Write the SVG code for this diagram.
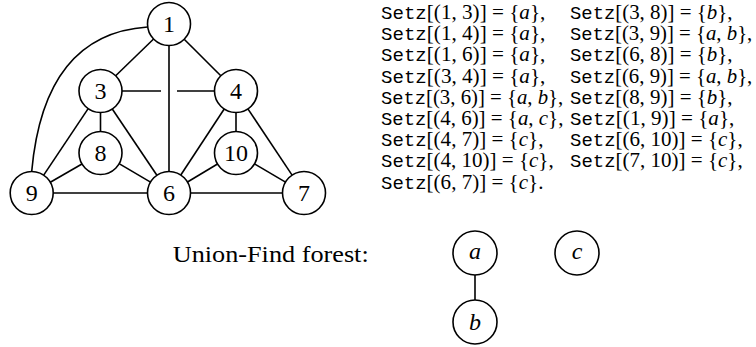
<svg xmlns="http://www.w3.org/2000/svg" width="756" height="347" viewBox="0 0 756 347">
<style>
.node circle{fill:#fff;stroke:#000;stroke-width:1.6}
.lbl{font-family:"Liberation Serif","DejaVu Serif",serif;font-size:24px;text-anchor:middle;fill:#000}
.it{font-style:italic}
.edges line,.edges path{stroke:#000;stroke-width:1.6;fill:none}
.st{font-family:"Liberation Serif","DejaVu Serif",serif;font-size:20.5px;fill:#000}
.tt{font-family:"Liberation Mono","DejaVu Sans Mono",monospace;font-size:18.5px}
</style>
<rect width="756" height="347" fill="#fff"/>
<g id="connectors" class="edges">
<path d="M147.5,27 Q44,34 31.7,171.5"/>
<line x1="153.6" y1="39" x2="115.4" y2="76"/>
<line x1="184.2" y1="39.2" x2="220.8" y2="75.8"/>
<line x1="169" y1="45.5" x2="169" y2="171.5"/>
<line x1="121.5" y1="91" x2="161" y2="91"/>
<line x1="177" y1="91" x2="214.5" y2="91"/>
<line x1="100.5" y1="112.5" x2="100.5" y2="131.5"/>
<line x1="88" y1="108.9" x2="43.7" y2="175.1"/>
<line x1="112.1" y1="108.8" x2="156.9" y2="175.2"/>
<line x1="82.4" y1="163.8" x2="50.3" y2="182.3"/>
<line x1="119.5" y1="163.9" x2="150.5" y2="182.1"/>
<line x1="53.2" y1="193" x2="147.5" y2="193"/>
<line x1="190.5" y1="193" x2="282.5" y2="193"/>
<line x1="236" y1="112.5" x2="236" y2="131.5"/>
<line x1="224.2" y1="109" x2="180.8" y2="175"/>
<line x1="247.9" y1="108.9" x2="292.1" y2="175.1"/>
<line x1="217.5" y1="164" x2="187.5" y2="182"/>
<line x1="254.5" y1="163.9" x2="285.5" y2="182.1"/>
<line x1="475" y1="275" x2="475" y2="300"/>
</g>
<g id="n1" class="node"><circle cx="169" cy="24" r="21.5"/><text class="lbl" x="169" y="32.3">1</text></g>
<g id="n3" class="node"><circle cx="100.5" cy="91" r="21.5"/><text class="lbl" x="100.5" y="99.3">3</text></g>
<g id="n4" class="node"><circle cx="236" cy="91" r="21.5"/><text class="lbl" x="236" y="99.3">4</text></g>
<g id="n8" class="node"><circle cx="100.5" cy="153" r="21.5"/><text class="lbl" x="100.5" y="161.3">8</text></g>
<g id="n10" class="node"><circle cx="236" cy="153" r="21.5"/><text class="lbl" x="236" y="161.3">10</text></g>
<g id="n9" class="node"><circle cx="31.7" cy="193" r="21.5"/><text class="lbl" x="31.7" y="201.3">9</text></g>
<g id="n6" class="node"><circle cx="169" cy="193" r="21.5"/><text class="lbl" x="169" y="201.3">6</text></g>
<g id="n7" class="node"><circle cx="304" cy="193" r="21.5"/><text class="lbl" x="304" y="201.3">7</text></g>
<g id="na" class="node"><circle cx="475" cy="253" r="22"/><text class="lbl it" x="475" y="259">a</text></g>
<g id="nb" class="node"><circle cx="475" cy="322" r="22"/><text class="lbl it" x="475" y="330">b</text></g>
<g id="nc" class="node"><circle cx="577" cy="253" r="22"/><text class="lbl it" x="577" y="259">c</text></g>
<text id="forest-label" class="lbl" x="172.7" y="261.5" style="text-anchor:start" textLength="196" lengthAdjust="spacingAndGlyphs">Union-Find forest:</text>
<g id="setz-list">
<text class="st" x="381" y="19" textLength="164.4" lengthAdjust="spacingAndGlyphs"><tspan class="tt">Setz</tspan>[(1, 3)] = {<tspan class="it">a</tspan>},</text>
<text class="st" x="381" y="40.2" textLength="164.4" lengthAdjust="spacingAndGlyphs"><tspan class="tt">Setz</tspan>[(1, 4)] = {<tspan class="it">a</tspan>},</text>
<text class="st" x="381" y="61.4" textLength="164.4" lengthAdjust="spacingAndGlyphs"><tspan class="tt">Setz</tspan>[(1, 6)] = {<tspan class="it">a</tspan>},</text>
<text class="st" x="381" y="82.6" textLength="164.4" lengthAdjust="spacingAndGlyphs"><tspan class="tt">Setz</tspan>[(3, 4)] = {<tspan class="it">a</tspan>},</text>
<text class="st" x="381" y="103.8" textLength="182.3" lengthAdjust="spacingAndGlyphs"><tspan class="tt">Setz</tspan>[(3, 6)] = {<tspan class="it">a</tspan>, <tspan class="it">b</tspan>},</text>
<text class="st" x="381" y="125" textLength="182.4" lengthAdjust="spacingAndGlyphs"><tspan class="tt">Setz</tspan>[(4, 6)] = {<tspan class="it">a</tspan>, <tspan class="it">c</tspan>},</text>
<text class="st" x="381" y="146.2" textLength="162.4" lengthAdjust="spacingAndGlyphs"><tspan class="tt">Setz</tspan>[(4, 7)] = {<tspan class="it">c</tspan>},</text>
<text class="st" x="381" y="167.4" textLength="172.7" lengthAdjust="spacingAndGlyphs"><tspan class="tt">Setz</tspan>[(4, 10)] = {<tspan class="it">c</tspan>},</text>
<text class="st" x="381" y="188.6" textLength="162.4" lengthAdjust="spacingAndGlyphs"><tspan class="tt">Setz</tspan>[(6, 7)] = {<tspan class="it">c</tspan>}.</text>
<text class="st" x="570" y="19" textLength="162.4" lengthAdjust="spacingAndGlyphs"><tspan class="tt">Setz</tspan>[(3, 8)] = {<tspan class="it">b</tspan>},</text>
<text class="st" x="570" y="40.2" textLength="182.3" lengthAdjust="spacingAndGlyphs"><tspan class="tt">Setz</tspan>[(3, 9)] = {<tspan class="it">a</tspan>, <tspan class="it">b</tspan>},</text>
<text class="st" x="570" y="61.4" textLength="162.4" lengthAdjust="spacingAndGlyphs"><tspan class="tt">Setz</tspan>[(6, 8)] = {<tspan class="it">b</tspan>},</text>
<text class="st" x="570" y="82.6" textLength="182.3" lengthAdjust="spacingAndGlyphs"><tspan class="tt">Setz</tspan>[(6, 9)] = {<tspan class="it">a</tspan>, <tspan class="it">b</tspan>},</text>
<text class="st" x="570" y="103.8" textLength="162.4" lengthAdjust="spacingAndGlyphs"><tspan class="tt">Setz</tspan>[(8, 9)] = {<tspan class="it">b</tspan>},</text>
<text class="st" x="570" y="125" textLength="164.4" lengthAdjust="spacingAndGlyphs"><tspan class="tt">Setz</tspan>[(1, 9)] = {<tspan class="it">a</tspan>},</text>
<text class="st" x="570" y="146.2" textLength="172.7" lengthAdjust="spacingAndGlyphs"><tspan class="tt">Setz</tspan>[(6, 10)] = {<tspan class="it">c</tspan>},</text>
<text class="st" x="570" y="167.4" textLength="172.7" lengthAdjust="spacingAndGlyphs"><tspan class="tt">Setz</tspan>[(7, 10)] = {<tspan class="it">c</tspan>},</text>
</g>
</svg>
